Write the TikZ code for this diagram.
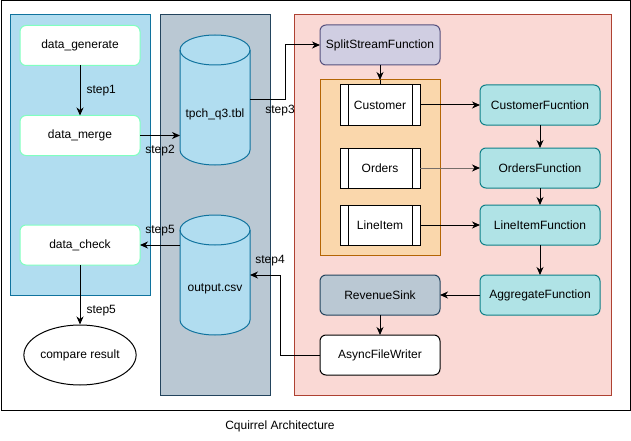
\documentclass[tikz,border=0pt]{standalone}
\usepackage{fontspec}
\setmainfont{Liberation Sans}
\usetikzlibrary{arrows.meta,shapes.geometric,calc}
\definecolor{bluefill}{HTML}{B1DDF0}
\definecolor{blueline}{HTML}{10739E}
\definecolor{greyfill}{HTML}{BAC8D3}
\definecolor{greyline}{HTML}{23445D}
\definecolor{redfill}{HTML}{FAD9D5}
\definecolor{redline}{HTML}{AE4132}
\definecolor{orangefill}{HTML}{FAD7AC}
\definecolor{orangeline}{HTML}{B46504}
\definecolor{lavfill}{HTML}{D0CEE2}
\definecolor{lavline}{HTML}{56517E}
\definecolor{tealfill}{HTML}{B0E3E6}
\definecolor{tealline}{HTML}{0E8088}
\definecolor{mint}{HTML}{80FFC0}
\definecolor{dimline}{HTML}{766E69}
\begin{document}
\begin{tikzpicture}[x=1pt,y=-1pt,line width=1pt,
  font=\fontsize{12}{14}\selectfont,
  panel/.style={draw,inner sep=0pt,outer sep=0pt},
  box/.style={draw,rounded corners=6pt,minimum width=120pt,minimum height=40pt,inner sep=0pt,outer sep=0pt},
  databox/.style={box,draw=mint,fill=white},
  procbox/.style={draw,fill=white,minimum width=80pt,minimum height=40pt,inner sep=0pt,outer sep=0pt},
  cylarea/.style={minimum width=70pt,inner sep=0pt,outer sep=0pt},
  cyl/.style={draw=blueline,fill=bluefill},
  conn/.style={-{Stealth[length=8pt,width=7pt,inset=2.5pt,color=black]},line width=1pt},
  lbl/.style={inner sep=0pt}]
\useasboundingbox (0,0) rectangle (631,441);
% frame and panels
\node[panel,draw=black,minimum width=629pt,minimum height=409pt] (frame) at (315.5,205.5) {};
\node[panel,draw=blueline,fill=bluefill,minimum width=140pt,minimum height=280pt] (leftp) at (80,155) {};
\node[panel,draw=greyline,fill=greyfill,minimum width=110pt,minimum height=380pt] (midp) at (215,205) {};
\node[panel,draw=redline,fill=redfill,minimum width=317pt,minimum height=380pt] (rightp) at (452.5,205) {};
\node[panel,draw=orangeline,fill=orangefill,minimum width=120pt,minimum height=175pt] (cont) at (380,167.5) {};
% left column
\node[databox] (dgen) at (80,45.5) {data\_generate};
\node[databox] (dmerge) at (80,135.5) {data\_merge};
\node[databox] (dcheck) at (80,245) {data\_check};
\node[draw,ellipse,fill=white,minimum width=100pt,minimum height=60pt,inner sep=0pt] (cmp) at (80,355) {compare result};
% cylinders
\node[cylarea,minimum height=130pt] (tpch) at (215,100) {};
\path[cyl] (180,50) -- (180,150) arc[start angle=180,end angle=360,x radius=35pt,y radius=15pt] -- (250,50) arc[start angle=0,end angle=180,x radius=35pt,y radius=15pt] -- cycle;
\draw[blueline] (180,50) arc[start angle=180,end angle=360,x radius=35pt,y radius=15pt];
\node[lbl] (tpchlbl) at (215,114) {tpch\_q3.tbl};
\node[cylarea,minimum height=120pt] (outcsv) at (215,275) {};
\path[cyl] (180,230) -- (180,320) arc[start angle=180,end angle=360,x radius=35pt,y radius=15pt] -- (250,230) arc[start angle=0,end angle=180,x radius=35pt,y radius=15pt] -- cycle;
\draw[blueline] (180,230) arc[start angle=180,end angle=360,x radius=35pt,y radius=15pt];
\node[lbl] (outlbl) at (215,289) {output.csv};
% right panel
\node[box,draw=lavline,fill=lavfill] (split) at (380,45) {SplitStreamFunction};
\node[procbox] (cust) at (380,105) {Customer};
\node[procbox] (ord) at (380,168) {Orders};
\node[procbox] (line) at (380,225) {LineItem};
\foreach \n in {cust,ord,line}{
  \draw ([xshift=8pt]\n.north west) -- ([xshift=8pt]\n.south west);
  \draw ([xshift=-8pt]\n.north east) -- ([xshift=-8pt]\n.south east);
}
\node[box,draw=tealline,fill=tealfill] (custf) at (540,105) {CustomerFucntion};
\node[box,draw=tealline,fill=tealfill] (ordf) at (540,168) {OrdersFunction};
\node[box,draw=tealline,fill=tealfill] (linef) at (540,225) {LineItemFunction};
\node[box,draw=tealline,fill=tealfill] (aggf) at (540,295) {AggregateFunction};
\node[box,draw=greyline,fill=greyfill] (sink) at (380,295) {RevenueSink};
\node[box,draw=black,fill=white] (async) at (380,355) {AsyncFileWriter};
% connectors
\draw[conn] (dgen) -- (dmerge);
\draw[conn] (dmerge.east) -- (dmerge.east -| tpch.west);
\draw[conn] (tpch.east) -- ++(35,0) |- (split.west);
\draw[conn] (split) -- (cont.north);
\draw (cont.north) -- (cust.north);
\draw[conn] (cust) -- (custf);
\draw[conn,draw=dimline] (ord) -- (ordf);
\draw[conn] (line) -- (linef);
\draw[conn] (custf) -- (ordf);
\draw[conn] (ordf) -- (linef);
\draw[conn] (linef) -- (aggf);
\draw[conn] (aggf) -- (sink);
\draw[conn] (sink) -- (async);
\draw[conn] (async.west) -- ++(-40,0) |- (outcsv.east);
\draw[conn] (outcsv.west |- dcheck.east) -- (dcheck.east);
\draw[conn] (dcheck) -- (cmp);
% labels
\node[lbl,anchor=west] (s1) at (86,91) {step1};
\node[lbl] (s2) at (160,151) {step2};
\node[lbl] (s3) at (280,111) {step3};
\node[lbl] (s4) at (270,261) {step4};
\node[lbl] (s5a) at (160,231) {step5};
\node[lbl,anchor=west] (s5b) at (86,311) {step5};
\node[lbl] (title) at (280,426) {Cquirrel Architecture};
\end{tikzpicture}
\end{document}
